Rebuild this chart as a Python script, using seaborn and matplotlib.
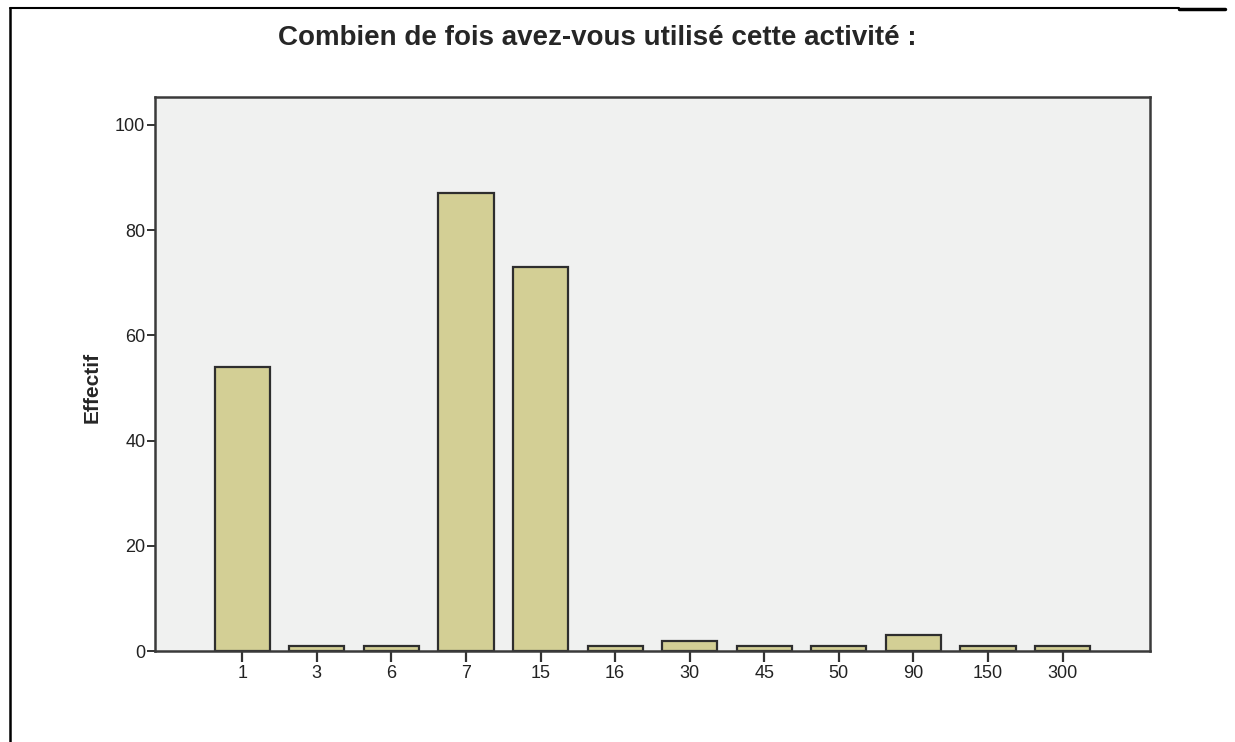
import pandas as pd
import numpy as np
import seaborn as sns
import matplotlib.pyplot as plt
from matplotlib.lines import Line2D

# valeurs
categories = ['1', '3', '6', '7', '15', '16', '30', '45', '50', '90', '150', '300']
effectifs = [54, 1, 1, 87, 73, 1, 2, 1, 1, 3, 1, 1]

df = pd.DataFrame({'fois': categories, 'effectif': effectifs})

sns.set_style('white')
plt.rcParams['font.family'] = ['Liberation Sans', 'DejaVu Sans']

fig = plt.figure(figsize=(12.35, 7.42), dpi=100)
ax = fig.add_axes([0.1255, 0.1226, 0.8055, 0.7467])

sns.barplot(data=df, x='fois', y='effectif', order=categories,
            color='#d3cf95', saturation=1, width=0.74,
            edgecolor='#2e2e2e', linewidth=1.6, ax=ax)

ax.set_facecolor('#f0f1f0')
ax.set_xlim(-1.17, len(categories) - 1 + 1.17)
ax.set_ylim(0, 105.3)
ax.set_yticks(np.arange(0, 101, 20))
for s in ax.spines.values():
    s.set_color('#3a3a3a')
    s.set_linewidth(1.8)
    s.set_visible(True)

ax.tick_params(axis='y', direction='out', length=6, width=1.4, color='#333333',
               labelsize=13, labelcolor='#222222', left=True, pad=1)
ax.tick_params(axis='x', direction='out', length=8, width=1.6, color='#333333',
               labelsize=13, labelcolor='#222222', bottom=True, pad=2)

ax.set_xlabel('')
ax.set_ylabel('Effectif', fontsize=15, fontweight='bold')
ax.yaxis.set_label_coords(-0.054, 0.475)
fig.text(0.484, 0.949, 'Combien de fois avez-vous utilisé cette activité :',
         ha='center', va='center', fontsize=20, fontweight='bold')

# cadre extérieur
fig.add_artist(Line2D([0.008, 0.955], [0.989, 0.989], color='black', lw=1.5))
fig.add_artist(Line2D([0.955, 0.992], [0.988, 0.988], color='black', lw=2.5))
fig.add_artist(Line2D([0.008, 0.008], [0.989, 0.0], color='black', lw=1.8))

fig.savefig('out.png', dpi=100)
